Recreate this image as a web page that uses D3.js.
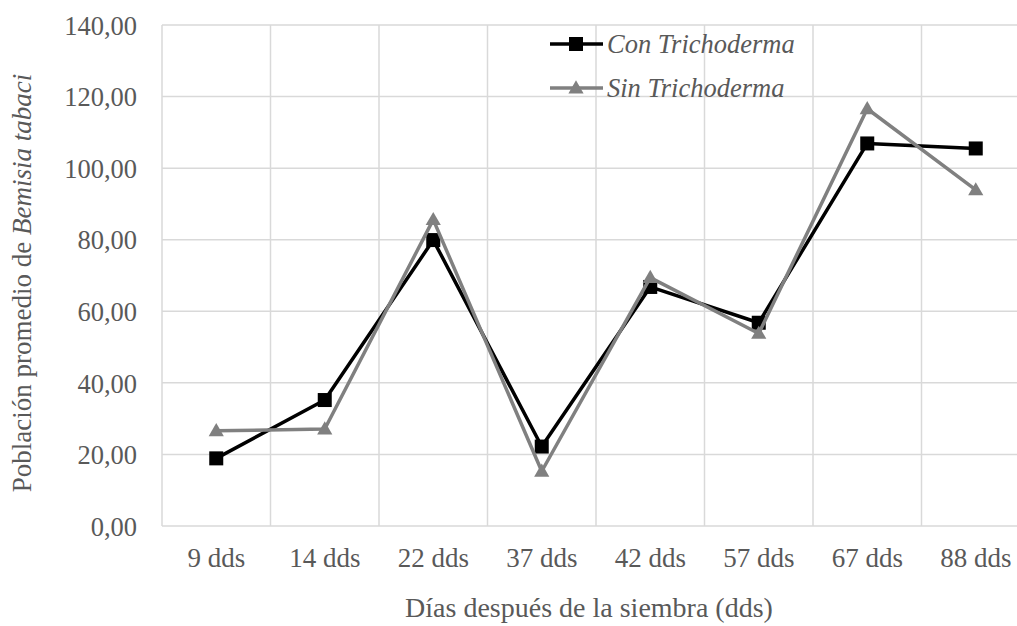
<!DOCTYPE html>
<html>
<head>
<meta charset="utf-8">
<script src="https://cdn.jsdelivr.net/npm/d3@7/dist/d3.min.js"></script>
<style>
  html, body { margin: 0; padding: 0; background: #ffffff; overflow: hidden; }
  svg { display: block; }
</style>
</head>
<body>
<svg id="chart" width="1017" height="626"></svg>
<script>
// Sampling dates (days after sowing)
const categories = ["9 dds", "14 dds", "22 dds", "37 dds", "42 dds", "57 dds", "67 dds", "88 dds"];
// Mean Bemisia tabaci population per treatment
const conTrichoderma = [18.9, 35.2, 79.9, 22.2, 66.8, 56.8, 106.9, 105.5];
const sinTrichoderma = [26.6, 27.1, 85.6, 15.3, 69.4, 53.8, 116.6, 93.9];
const seriesNames = ["Con Trichoderma", "Sin Trichoderma"];
const yTicks = [0, 20, 40, 60, 80, 100, 120, 140];

const FONT = "'Liberation Serif', Tinos, 'Times New Roman', Times, 'Nimbus Roman', 'Noto Serif', FreeSerif, 'DejaVu Serif', serif";
const TEXT_COLOR = "#595959";
const gridColor = "#d9d9d9";

const svg = d3.select("#chart");

const x = d3.scaleBand().domain(categories).range([162, 1030]).padding(0);
const y = d3.scaleLinear().domain([0, 140]).range([526, 25]);

const fmt = v => d3.format(".2f")(v).replace(".", ",");

// Horizontal gridlines
svg.append("g").selectAll("line").data(yTicks).join("line")
  .attr("x1", x.range()[0]).attr("x2", x.range()[1])
  .attr("y1", d => y(d)).attr("y2", d => y(d))
  .attr("stroke", gridColor).attr("stroke-width", 1.5);

// Vertical gridlines at category boundaries
const bounds = categories.map(c => x(c)).concat([x.range()[1]]);
svg.append("g").selectAll("line").data(bounds).join("line")
  .attr("x1", d => d).attr("x2", d => d)
  .attr("y1", y(0)).attr("y2", y(140))
  .attr("stroke", gridColor).attr("stroke-width", 1.5);

// Y axis labels
const yAxis = svg.append("g")
  .attr("transform", `translate(${x.range()[0]},0)`)
  .call(d3.axisLeft(y).tickValues(yTicks).tickFormat(fmt).tickSize(0).tickPadding(25));
yAxis.attr("font-family", null).attr("font-size", null);
yAxis.select(".domain").remove();
yAxis.selectAll("text")
  .style("font-family", FONT).style("font-size", "26.5px").style("fill", TEXT_COLOR)
  .attr("dy", "0.35em");

// X axis labels
const xAxis = svg.append("g")
  .attr("transform", `translate(0,${y(0)})`)
  .call(d3.axisBottom(x).tickSize(0).tickPadding(22));
xAxis.attr("font-family", null).attr("font-size", null);
xAxis.select(".domain").remove();
xAxis.selectAll("text")
  .style("font-family", FONT).style("font-size", "27px").style("fill", TEXT_COLOR)
  .attr("dy", "0.71em");

// Axis titles
svg.append("text")
  .attr("x", 589).attr("y", 617)
  .attr("text-anchor", "middle")
  .style("font-family", FONT).style("font-size", "28px").style("fill", TEXT_COLOR)
  .text("Días después de la siembra (dds)");

const yTitle = svg.append("text")
  .attr("transform", "translate(31,283) rotate(-90)")
  .attr("text-anchor", "middle")
  .style("font-family", FONT).style("font-size", "27px").style("fill", TEXT_COLOR);
yTitle.append("tspan").text("Población promedio de ");
yTitle.append("tspan").style("font-style", "italic").text("Bemisia tabaci");

const line = d3.line()
  .x((d, i) => x(categories[i]) + x.bandwidth() / 2)
  .y(d => y(d));

const triangle = d3.symbol().type(d3.symbolTriangle).size(100);

function addMarker(sel, color, marker) {
  if (marker === "square") {
    sel.append("rect").attr("x", -7).attr("y", -7).attr("width", 14).attr("height", 14)
      .attr("fill", color);
  } else {
    sel.append("path").attr("d", triangle).attr("transform", "translate(0,1)")
      .attr("fill", color);
  }
}

function drawSeries(values, color, marker) {
  const g = svg.append("g");
  g.append("path").datum(values)
    .attr("d", line)
    .attr("fill", "none").attr("stroke", color)
    .attr("stroke-width", 3.5).attr("stroke-linejoin", "round");
  const pts = g.selectAll("g.pt").data(values).join("g")
    .attr("transform", (d, i) => `translate(${x(categories[i]) + x.bandwidth() / 2},${y(d)})`);
  addMarker(pts, color, marker);
}

drawSeries(conTrichoderma, "#000000", "square");
drawSeries(sinTrichoderma, "#808080", "triangle");

// Legend
const legendItems = [
  { name: seriesNames[0], color: "#000000", marker: "square", y: 44 },
  { name: seriesNames[1], color: "#808080", marker: "triangle", y: 88 }
];
const lg = svg.append("g").selectAll("g").data(legendItems).join("g")
  .attr("transform", d => `translate(0,${d.y})`);
lg.append("line").attr("x1", 550).attr("x2", 603).attr("y1", 0).attr("y2", 0)
  .attr("stroke", d => d.color).attr("stroke-width", 3.5);
lg.each(function(d) {
  const m = d3.select(this).append("g").attr("transform", "translate(576,0)");
  addMarker(m, d.color, d.marker);
});
lg.append("text").attr("x", 607).attr("y", 9)
  .style("font-family", FONT).style("font-size", "26.5px").style("font-style", "italic")
  .style("fill", TEXT_COLOR)
  .text(d => d.name);
</script>
</body>
</html>
